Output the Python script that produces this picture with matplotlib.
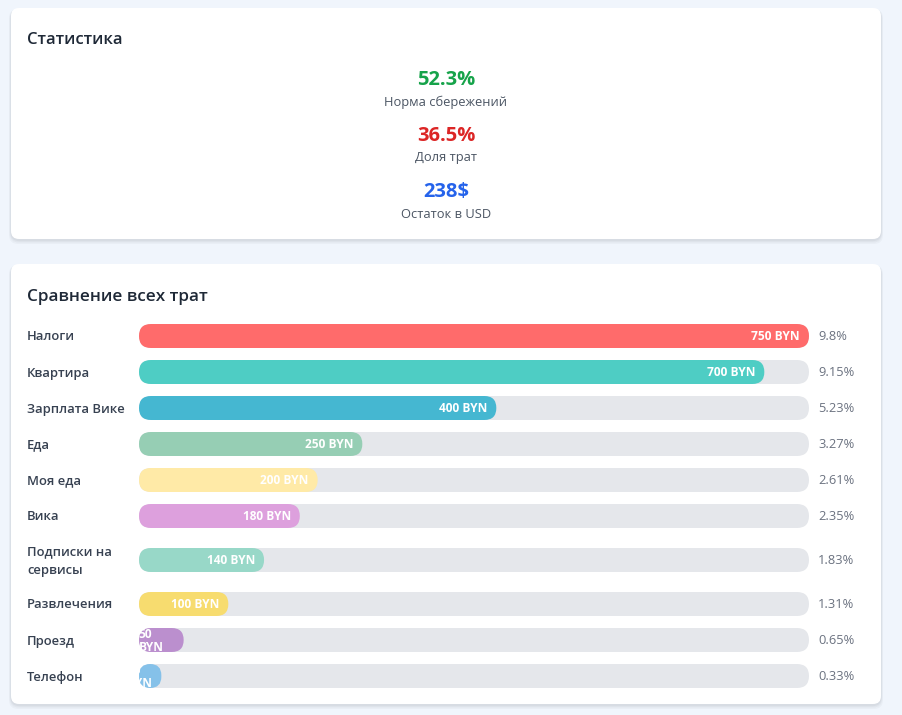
import textwrap
import matplotlib
matplotlib.use("Agg")
import matplotlib.pyplot as plt
from matplotlib.patches import FancyBboxPatch

plt.rcParams["font.family"] = ["Open Sans", "DejaVu Sans"]


# ДАННЫЕ

stat_values = ["52.3%", "36.5%", "238$"]
stat_labels = ["Норма сбережений", "Доля трат", "Остаток в USD"]
stat_colors = ["#16a34a", "#dc2626", "#2563eb"]

categories = [
    "Налоги", "Квартира", "Зарплата Вике", "Еда", "Моя еда",
    "Вика", "Подписки на сервисы", "Развлечения", "Проезд", "Телефон"
]
amounts = [750, 700, 400, 250, 200, 180, 140, 100, 50, 25]
shares = [9.8, 9.15, 5.23, 3.27, 2.61, 2.35, 1.83, 1.31, 0.65, 0.33]
bar_colors = [
    "#ff6b6b", "#4ecdc4", "#45b7d1", "#96ceb4", "#ffeaa7",
    "#dda0dd", "#98d8c8", "#f7dc6f", "#bb8fce", "#85c1e9"
]


# ФИГУРА (координаты в пикселях)

W, H = 903, 715
fig = plt.figure(figsize=(W / 100, H / 100), dpi=100)
fig.patch.set_facecolor("#f0f5fc")

bg = fig.add_axes([0, 0, 1, 1])
bg.set_xlim(0, W)
bg.set_ylim(H, 0)
bg.axis("off")


def card(x0, y0, x1, y1):
    for k, a in [(4, 0.03), (2.5, 0.04), (1.2, 0.05)]:
        bg.add_patch(FancyBboxPatch(
            (x0 - k / 2, y0 + 1), x1 - x0 + k, y1 - y0 + k,
            boxstyle="round,pad=0,rounding_size=9",
            facecolor="#1e293b", alpha=a, edgecolor="none", zorder=1
        ))
    bg.add_patch(FancyBboxPatch(
        (x0, y0), x1 - x0, y1 - y0,
        boxstyle="round,pad=0,rounding_size=8",
        facecolor="white", edgecolor="none", zorder=2
    ))


card(11, 8, 881, 239)
card(11, 264, 881, 704)


# КАРТОЧКА СТАТИСТИКИ

bg.text(27, 40, "Статистика", fontsize=12, fontweight="semibold",
        color="#1f2937", va="center", ha="left", zorder=3)

for i in range(len(stat_values)):
    yc = 80 + i * 56
    bg.text(446, yc, stat_values[i], fontsize=14.5, fontweight="bold",
            color=stat_colors[i], ha="center", va="center", zorder=3)
    bg.text(446, yc + 22, stat_labels[i], fontsize=9.3,
            color="#4b5563", ha="center", va="center", zorder=3)


# КАРТОЧКА СРАВНЕНИЯ ТРАТ

bg.text(27, 297, "Сравнение всех трат", fontsize=12.3, fontweight="semibold",
        color="#1f2937", va="center", ha="left", zorder=3)

track_x0, track_w = 139, 670
max_amount = max(amounts)

ax = fig.add_axes([track_x0 / W, 0, track_w / W, 1])
ax.set_xlim(0, max_amount)
ax.set_ylim(H, 0)
ax.axis("off")
ax.set_zorder(5)

px_per_unit = track_w / max_amount
bar_h = 24

y_top = 324
for i, name in enumerate(categories):
    label = textwrap.fill(name, 14)
    row_h = bar_h if "\n" not in label else 40
    yc = y_top + row_h / 2
    y_top += row_h + 12

    bg.text(27, yc + 1, label, fontsize=9.4, fontweight="semibold",
            color="#374151", ha="left", va="center", linespacing=1.6,
            zorder=3)

    # дорожка
    ax.add_patch(FancyBboxPatch(
        (0, yc - bar_h / 2), max_amount, bar_h,
        boxstyle="round,pad=0,rounding_size=%f" % (12 / px_per_unit),
        mutation_aspect=px_per_unit,
        facecolor="#e5e7eb", edgecolor="none"
    ))

    # столбик
    w_px = amounts[i] * px_per_unit
    r_px = min(12, w_px / 2)
    bar = FancyBboxPatch(
        (0, yc - bar_h / 2), amounts[i], bar_h,
        boxstyle="round,pad=0,rounding_size=%f" % (r_px / px_per_unit),
        mutation_aspect=px_per_unit,
        facecolor=bar_colors[i], edgecolor="none"
    )
    ax.add_patch(bar)

    text = "%d BYN" % amounts[i]
    if w_px > 60:
        t = ax.annotate(text, (amounts[i], yc), xytext=(-9, 0),
                        textcoords="offset pixels", ha="right",
                        va="center", fontsize=8.6, fontweight="bold",
                        color="white")
    else:
        t = ax.annotate(text.replace(" ", "\n"), (amounts[i] / 2, yc),
                        xytext=(-10, -1), textcoords="offset pixels",
                        ha="center", va="center", fontsize=8.6,
                        fontweight="bold", color="white",
                        multialignment="left", linespacing=0.95)
    t.set_clip_path(bar)

    bg.text(818, yc + 1, "{:g}%".format(shares[i]), fontsize=9.3,
            color="#6b7280", ha="left", va="center", zorder=3)

fig.savefig("out.png", dpi=100, facecolor=fig.get_facecolor())
